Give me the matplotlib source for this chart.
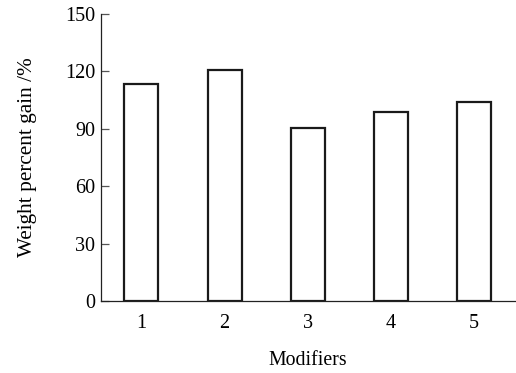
import matplotlib
matplotlib.use("Agg")
import matplotlib.pyplot as plt

# data
modifiers = [1, 2, 3, 4, 5]
tick_labels = ["1", "2", "3", "4", "5"]
gain = [113.4, 120.7, 90.3, 98.6, 103.9]
y_ticks = [0, 30, 60, 90, 120, 150]

plt.rcParams["font.family"] = ["Liberation Serif", "DejaVu Serif"]

fig = plt.figure(figsize=(5.16, 3.73), dpi=100)
ax = fig.add_axes([0.195, 0.193, 0.803, 0.7695])

ax.bar(modifiers, gain, width=0.41, facecolor="white", edgecolor="#1a1a1a", linewidth=1.6)

ax.set_xlim(0.51, 5.49)
ax.set_ylim(0, 150)
ax.set_xticks(modifiers)
ax.set_xticklabels(tick_labels)
ax.set_yticks(y_ticks)

ax.spines["top"].set_visible(False)
ax.spines["right"].set_visible(False)
for s in ("left", "bottom"):
    ax.spines[s].set_linewidth(0.9)
    ax.spines[s].set_color("#222222")

ax.tick_params(axis="y", direction="in", length=6, width=0.9, pad=4, labelsize=14.5, color="#555555")
ax.tick_params(axis="x", length=0, pad=9.5, labelsize=14.5)

ax.set_xlabel("Modifiers", fontsize=14.3, labelpad=13)
ax.set_ylabel("Weight percent gain /%", fontsize=15.3, labelpad=20)

fig.savefig("out.png", dpi=100)
